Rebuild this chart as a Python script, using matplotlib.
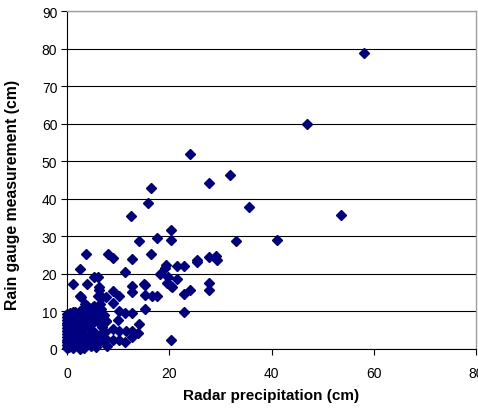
import matplotlib
matplotlib.use("Agg")
import matplotlib.pyplot as plt

plt.rcParams['font.family'] = ['Liberation Sans', 'DejaVu Sans']

# Radar precipitation (cm)
radar = [
    58.0, 47.0, 24.1, 31.8, 27.8, 16.4, 15.9, 12.6, 35.6, 53.5,
    20.3, 20.3, 17.7, 14.1, 33.0, 41.0, 16.5, 3.8, 8.0, 9.0,
    12.7, 25.4, 25.4, 27.8, 29.2, 29.3, 22.9, 21.5, 19.4, 19.2,
    2.5, 11.3, 5.3, 6.1, 18.2, 19.8, 21.5, 19.6, 20.4, 27.8,
    27.8, 24.1, 22.8, 1.2, 4.0, 6.2, 6.3, 12.7, 12.7, 15.3,
    15.3, 16.6, 17.7, 22.8, 15.3, 2.5, 6.1, 7.6, 8.9, 10.2,
    9.0, 10.2, 11.4, 12.7, 14.0, 13.8, 12.7, 12.7, 11.4, 10.2,
    8.9, 7.6, 20.3, 10.0, 10.2, 11.5, 8.9, 7.6, 6.3, 6.5,
    5.3, 3.5, 2.7, 6.8, 20.5, 15.1,
    0.0, 0.0, 0.0, 0.0, 0.0, 0.0, 0.0, 0.0, 0.0, 0.0,
    0.0, 0.0, 0.0, 0.3, 0.4, 0.5, 0.3, 0.5, 0.4, 0.6,
    0.8, 0.9, 1.0, 1.2, 1.3, 1.1, 1.5, 1.6, 1.8, 1.7,
    2.0, 2.2, 2.3, 2.5, 2.6, 2.8, 3.0, 3.1, 3.3, 3.5,
    3.6, 3.8, 4.0, 4.2, 4.3, 4.5, 4.7, 5.0, 5.1, 5.3,
    5.5, 5.8, 6.0, 6.2, 6.4, 6.6, 6.8, 7.0, 7.2, 7.5,
    7.6, 7.8, 2.5, 1.2, 3.5, 5.1, 6.5, 1.0, 2.0, 3.0,
    4.5, 0.6, 1.4, 2.4, 3.2, 4.8, 5.6, 0.2, 0.2, 0.7,
]

# Rain gauge measurement (cm)
gauge = [
    78.8, 59.9, 51.9, 46.3, 44.1, 43.0, 38.9, 35.3, 37.9, 35.7,
    31.8, 28.9, 29.6, 28.7, 28.7, 28.9, 25.4, 25.4, 25.4, 24.1,
    23.9, 23.6, 23.2, 24.4, 24.8, 23.7, 22.2, 22.2, 22.4, 21.6,
    21.3, 20.6, 19.3, 19.3, 19.9, 19.2, 18.7, 17.7, 16.9, 17.5,
    15.8, 15.8, 14.6, 17.4, 17.4, 16.4, 15.7, 16.9, 15.1, 17.0,
    14.5, 14.2, 14.2, 9.9, 10.6, 14.2, 14.2, 13.9, 15.5, 14.2,
    12.2, 10.2, 9.6, 9.6, 6.7, 4.2, 4.9, 3.1, 1.8, 2.4,
    2.4, 2.7, 2.4, 7.8, 4.9, 4.7, 5.3, 7.5, 7.3, 10.6,
    11.5, 12.0, 13.9, 13.8, 16.4, 17.3,
    0.3, 1.0, 1.8, 2.5, 3.2, 4.0, 4.8, 5.5, 6.3, 7.0,
    7.8, 8.5, 9.3, 0.5, 2.0, 3.5, 5.0, 6.5, 8.0, 9.5,
    1.2, 4.2, 7.2, 0.3, 2.8, 5.8, 9.8, 4.5, 1.5, 6.8,
    3.5, 8.5, 0.5, 5.5, 10.2, 2.2, 7.5, 4.0, 0.2, 9.0,
    6.0, 1.8, 11.5, 3.2, 8.0, 5.2, 0.8, 10.0, 6.8, 2.5,
    4.3, 8.8, 1.5, 7.3, 3.8, 10.6, 5.8, 2.3, 9.0, 4.5,
    7.5, 0.8, 0.0, 9.8, 11.2, 11.1, 12.0, 3.0, 6.0, 1.2,
    9.5, 7.5, 8.8, 6.2, 5.0, 2.0, 0.5, 8.0, 3.8, 1.0,
]

x_ticks = [0, 20, 40, 60, 80]
y_ticks = [0, 10, 20, 30, 40, 50, 60, 70, 80, 90]

fig = plt.figure(figsize=(4.78, 4.14), dpi=100)
ax = fig.add_axes([67/478, 64/414, (476-67)/478, (350-12)/414])

ax.set_xlim(0, 80)
ax.set_ylim(0, 90)
ax.set_xticks(x_ticks)
ax.set_yticks(y_ticks)

ax.grid(axis='y', color='black', linewidth=0.8)
ax.set_axisbelow(True)

ax.plot(radar, gauge, linestyle='none', marker='D', markersize=4.9,
        color='#000080', markeredgecolor='#000080', clip_on=False, zorder=3)

for s in ['top', 'right']:
    ax.spines[s].set_color('#a0a0a0')
    ax.spines[s].set_linewidth(1.0)
for s in ['left', 'bottom']:
    ax.spines[s].set_color('black')
    ax.spines[s].set_linewidth(0.8)

ax.tick_params(axis='both', direction='out', length=4, width=0.8,
               labelsize=10, pad=3, colors='black')
ax.tick_params(axis='x', pad=8)

ax.set_xlabel('Radar precipitation (cm)', fontsize=11, fontweight='bold', labelpad=6)
ax.set_ylabel('Rain gauge measurement (cm)', fontsize=11.3, fontweight='bold')
ax.yaxis.set_label_coords(-0.115, 0.46)

fig.savefig('out.png', dpi=100)
